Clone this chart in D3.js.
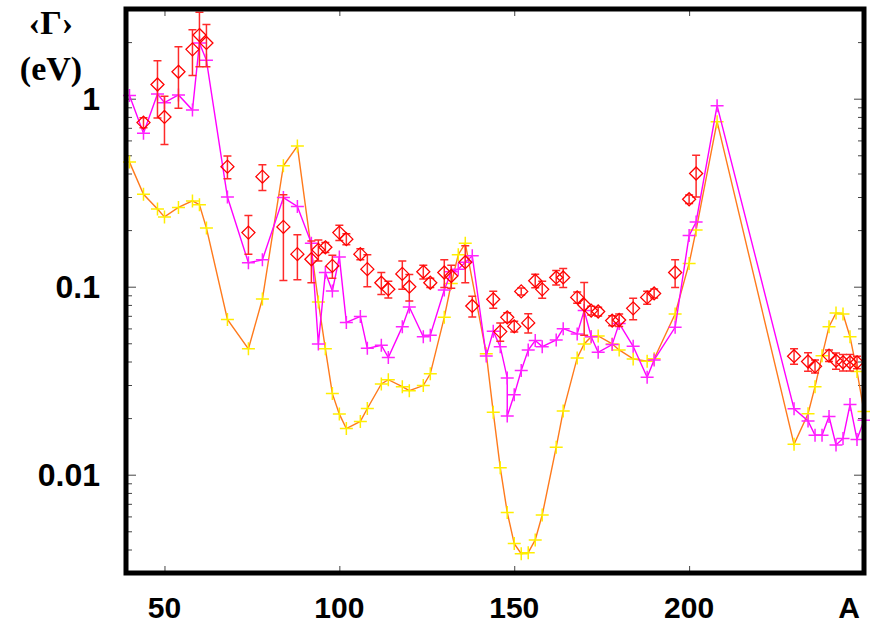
<!DOCTYPE html>
<html>
<head>
<meta charset="utf-8">
<script src="https://cdn.jsdelivr.net/npm/d3@7"></script>
<style>
  body { margin: 0; background: #fff; }
  svg { display: block; }
</style>
</head>
<body>
<svg id="chart" width="870" height="626"></svg>
<script>
// Mean widths <Γ> (eV) versus mass number A

// Calculation 1 (orange line, yellow crosses)
const calcAA = [40,44,48,50,54,58,60,62,68,74,78,84,88,94,96,98,100,102,106,108,112,114,118,120,124,126,130,132,134,136,142,144,146,148,150,152,154,156,158,162,164,168,170,172,174,178,180,184,188,190,196,200,202,208,230,234,236,238,240,242,244,246,248,250];
const calcAGamma = [0.46,0.31,0.259,0.235,0.264,0.286,0.273,0.205,0.067,0.0467,0.086,0.44,0.56,0.083,0.0467,0.027,0.021,0.0176,0.0192,0.0225,0.0304,0.032,0.0294,0.028,0.0298,0.0344,0.0687,0.104,0.148,0.17,0.044,0.0215,0.0109,0.0063,0.0043,0.0038,0.00385,0.0045,0.0061,0.014,0.0218,0.0418,0.0496,0.0542,0.0547,0.0496,0.0461,0.0413,0.0401,0.0414,0.0716,0.133,0.2,0.755,0.0145,0.0211,0.0294,0.0429,0.0613,0.0725,0.0716,0.0542,0.0354,0.0217];

// Calculation 2 (magenta line, magenta crosses)
const calcBA = [40,44,48,50,54,58,60,62,68,74,78,84,88,92,94,96,98,100,102,106,108,112,114,118,120,124,126,130,132,134,136,138,142,144,146,148,148,150,152,154,156,158,162,164,168,170,172,174,178,180,184,188,190,196,200,202,208,230,234,236,238,240,242,244,246,248,250];
const calcBGamma = [1.04,0.655,1.06,0.953,1.047,0.87,1.98,1.6,0.30,0.134,0.139,0.298,0.267,0.17,0.0496,0.119,0.095,0.144,0.0646,0.0695,0.047,0.0488,0.042,0.0613,0.078,0.0542,0.0552,0.096,0.12,0.124,0.135,0.146,0.0428,0.058,0.048,0.0327,0.0205,0.0266,0.0358,0.046,0.0517,0.048,0.0521,0.0598,0.0561,0.0746,0.0542,0.0448,0.0492,0.0638,0.0482,0.033,0.0408,0.0608,0.187,0.221,0.918,0.0224,0.0193,0.0162,0.0162,0.0204,0.0144,0.0156,0.0236,0.0154,0.0195];

// Measured values (red diamonds) with uncertainties
const expA = [44,48,50,54,58,60,62,68,74,78,84,88,92,94,96,98,100,102,106,108,112,114,118,120,124,126,130,132,136,138,144,146,148,150,152,154,156,158,162,164,168,170,172,174,178,180,184,188,190,196,200,202,230,234,236,240,242,244,246,248];
const expGamma = [0.746,1.19,0.80,1.39,1.83,2.18,1.98,0.435,0.194,0.385,0.208,0.149,0.14,0.157,0.162,0.129,0.194,0.179,0.149,0.124,0.105,0.097,0.117,0.100,0.120,0.105,0.119,0.114,0.135,0.079,0.0857,0.0577,0.0687,0.0615,0.0944,0.0642,0.1076,0.0968,0.112,0.112,0.0877,0.0802,0.0746,0.0738,0.066,0.0665,0.0767,0.0877,0.0921,0.119,0.292,0.40,0.0427,0.040,0.0377,0.043,0.0404,0.0396,0.0396,0.0396];
const expErr = [0.045,0.4,0.23,0.5,0.5,0.7,0.5,0.06,0.045,0.06,0.1,0.04,0.035,0.02,0.01,0.018,0.018,0.012,0.01,0.024,0.014,0.01,0.02,0.016,0.01,0.006,0.02,0.016,0.03,0.01,0.009,0.0065,0.004,0.004,0.004,0.0075,0.009,0.01,0.01,0.013,0.006,0.025,0.004,0.004,0.004,0.005,0.01,0.007,0.005,0.02,0.015,0.1,0.004,0.0045,0.003,0.003,0.004,0.004,0.004,0.003];

// Axis ticks
const xTickValues = [50, 100, 150, 200];
const xTickLabels = ["50", "100", "150", "200"];
const yMajorTicks = [0.01, 0.1, 1];
const yTickLabels = ["0.01", "0.1", "1"];

const svg = d3.select("#chart");
const plot = { left: 126, right: 864, top: 9, bottom: 573 };

const x = d3.scaleLinear().domain([39, 250]).range([plot.left, plot.right]);
const y = d3.scaleLog().domain([0.003, 3]).range([plot.bottom, plot.top]);

// Minor decade ticks (2..9 × 10^n) inside the domain
const yMinor = y.ticks().filter(v => !yMajorTicks.some(m => Math.abs(v - m) / m < 1e-9));

function tickAxis(axisFn, scale, values, size, translate) {
  const g = svg.append("g")
    .attr("transform", translate)
    .call(axisFn(scale).tickValues(values).tickSize(size).tickFormat(""));
  g.select(".domain").remove();
  g.selectAll(".tick line").attr("stroke", "#444").attr("stroke-width", 1);
  return g;
}

// inward ticks on all four sides
tickAxis(d3.axisLeft, y, yMajorTicks, -10, `translate(${plot.left},0)`);
tickAxis(d3.axisLeft, y, yMinor, -6, `translate(${plot.left},0)`);
tickAxis(d3.axisRight, y, yMajorTicks, -10, `translate(${plot.right},0)`);
tickAxis(d3.axisRight, y, yMinor, -6, `translate(${plot.right},0)`);
tickAxis(d3.axisBottom, x, xTickValues, -7, `translate(0,${plot.bottom})`);
tickAxis(d3.axisTop, x, xTickValues, -7, `translate(0,${plot.top})`);

const crossPath = r => `M${-r},0H${r}M0,${-r}V${r}`;

// Calculation 1: orange line with yellow crosses
const calcA = calcAA.map((a, i) => ({ a, g: calcAGamma[i] }));
const line = d3.line().x(d => x(d.a)).y(d => y(d.g));
svg.append("path").datum(calcA)
  .attr("d", line).attr("fill", "none")
  .attr("stroke", "#ff7a1c").attr("stroke-width", 1.4);
svg.append("g").selectAll("path").data(calcA).join("path")
  .attr("transform", d => `translate(${x(d.a)},${y(d.g)})`)
  .attr("d", crossPath(6.5))
  .attr("stroke", "#ffee00").attr("stroke-width", 1.5).attr("fill", "none");

// Calculation 2: magenta line with magenta crosses
const calcB = calcBA.map((a, i) => ({ a, g: calcBGamma[i] }));
svg.append("path").datum(calcB)
  .attr("d", line).attr("fill", "none")
  .attr("stroke", "#ff00ff").attr("stroke-width", 1.4);
svg.append("g").selectAll("path").data(calcB).join("path")
  .attr("transform", d => `translate(${x(d.a)},${y(d.g)})`)
  .attr("d", crossPath(6.5))
  .attr("stroke", "#ff22ff").attr("stroke-width", 1.5).attr("fill", "none");

// Measurements: error bars with caps, then open diamonds
const expData = expA.map((a, i) => ({ a, g: expGamma[i], e: expErr[i] }));
const eb = svg.append("g").attr("stroke", "#ff2a2a").attr("stroke-width", 1.5).attr("fill", "none");
eb.selectAll("path").data(expData).join("path")
  .attr("d", d => {
    const cx = x(d.a), y1 = y(d.g + d.e), y0 = y(Math.max(d.g - d.e, 1e-4)), c = 4;
    return `M${cx},${y1}V${y0}M${cx - c},${y1}H${cx + c}M${cx - c},${y0}H${cx + c}`;
  });
svg.append("g").selectAll("path").data(expData).join("path")
  .attr("transform", d => `translate(${x(d.a)},${y(d.g)})`)
  .attr("d", "M0,-6.5L6.5,0L0,6.5L-6.5,0Z")
  .attr("stroke", "#ff0000").attr("stroke-width", 1.3).attr("fill", "none");

// Frame
svg.append("rect")
  .attr("x", plot.left).attr("y", plot.top)
  .attr("width", plot.right - plot.left).attr("height", plot.bottom - plot.top)
  .attr("fill", "none").attr("stroke", "#000").attr("stroke-width", 5);

// Tick labels
const labelFont = "'Liberation Sans', Arial, sans-serif";
svg.append("g").selectAll("text").data(xTickValues).join("text")
  .attr("x", d => x(d)).attr("y", 618)
  .attr("text-anchor", "middle")
  .attr("font-family", labelFont).attr("font-weight", "bold").attr("font-size", 30)
  .text((d, i) => xTickLabels[i]);
svg.append("text").attr("x", 849).attr("y", 618).attr("text-anchor", "middle")
  .attr("font-family", labelFont).attr("font-weight", "bold").attr("font-size", 30)
  .text("A");

svg.append("g").selectAll("text").data(yMajorTicks).join("text")
  .attr("x", 100).attr("y", d => y(d) + 11)
  .attr("text-anchor", "end")
  .attr("font-family", labelFont).attr("font-weight", "bold").attr("font-size", 32)
  .text((d, i) => yTickLabels[i]);

// Axis title
const titleFont = "'Liberation Serif', 'Times New Roman', serif";
svg.append("text").attr("x", 51).attr("y", 34).attr("text-anchor", "middle")
  .attr("font-family", titleFont).attr("font-weight", "bold").attr("font-size", 34)
  .text("‹Γ›");
svg.append("text").attr("x", 51).attr("y", 80).attr("text-anchor", "middle")
  .attr("font-family", titleFont).attr("font-weight", "bold").attr("font-size", 34)
  .text("(eV)");
</script>
</body>
</html>
